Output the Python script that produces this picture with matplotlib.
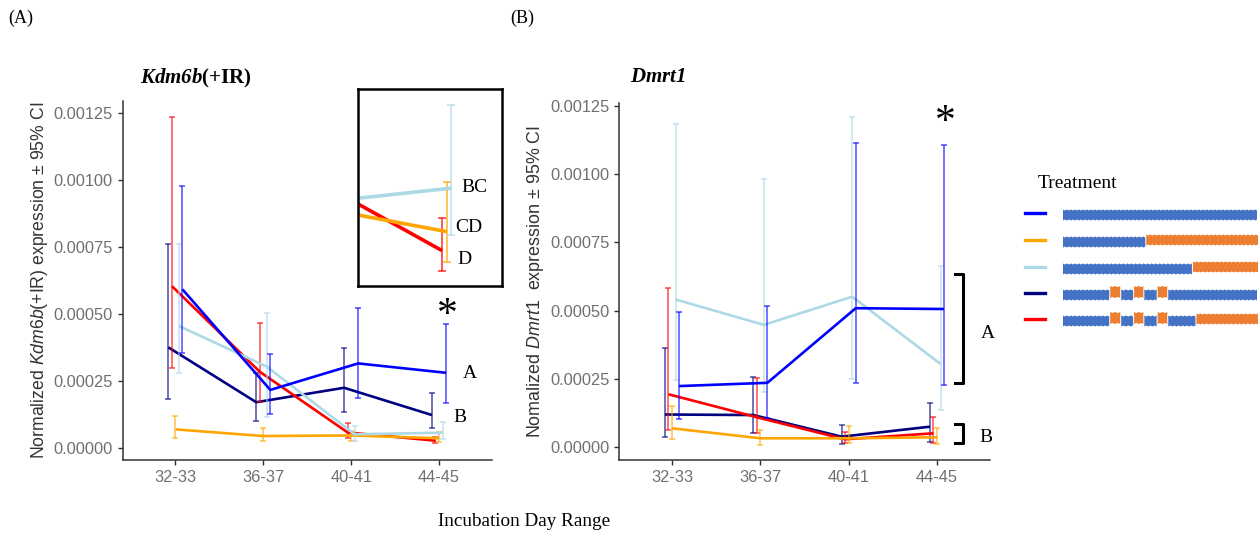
import matplotlib.pyplot as plt
import numpy as np
from matplotlib.patches import Polygon
from matplotlib.ticker import FormatStrFormatter

# ---- data ----
days = ["32-33", "36-37", "40-41", "44-45"]
groups = ["navy", "red", "orange", "lightblue", "blue"]

# Kdm6b(+IR): mean, lower CI, upper CI
kdm_navy = [[0.000375, 0.000170, 0.000224, 0.000122],
            [0.000181, 0.000101, 0.000135, 0.0000723],
            [0.000761, 0.000278, 0.000373, 0.000203]]
kdm_red = [[0.000604, 0.000284, 0.0000570, 0.0000262],
           [0.000297, 0.000172, 0.0000349, 0.0000166],
           [0.001235, 0.000467, 0.0000935, 0.0000417]]
kdm_orange = [[0.0000685, 0.0000436, 0.0000457, 0.0000353],
              [0.0000374, 0.0000249, 0.0000249, 0.0000209],
              [0.000118, 0.0000723, 0.0000636, 0.0000592]]
kdm_lightblue = [[0.000455, 0.000303, 0.0000501, 0.0000561],
                 [0.000278, 0.000115, 0.0000260, 0.0000337],
                 [0.000761, 0.000502, 0.0000811, 0.0000960]]
kdm_blue = [[0.000592, 0.000216, 0.000315, 0.000280],
            [0.000355, 0.000126, 0.000187, 0.000168],
            [0.000978, 0.000349, 0.000521, 0.000462]]

# Dmrt1
dmrt_navy = [[0.000120, 0.000118, 0.0000388, 0.0000754],
             [0.0000388, 0.0000534, 0.0000120, 0.0000210],
             [0.000364, 0.000258, 0.0000816, 0.000163]]
dmrt_red = [[0.000194, 0.000110, 0.0000293, 0.0000512],
            [0.0000633, 0.0000512, 0.0000146, 0.0000146],
            [0.000584, 0.000252, 0.0000560, 0.000110]]
dmrt_orange = [[0.0000695, 0.0000329, 0.0000329, 0.0000366],
               [0.0000293, 0.0000084, 0.0000146, 0.0000120],
               [0.000151, 0.0000633, 0.0000780, 0.0000695]]
dmrt_lightblue = [[0.000541, 0.000448, 0.000551, 0.000305],
                  [0.000246, 0.000203, 0.000249, 0.000136],
                  [0.001183, 0.000980, 0.001207, 0.000663]]
dmrt_blue = [[0.000224, 0.000236, 0.000509, 0.000506],
             [0.000102, 0.000106, 0.000234, 0.000228],
             [0.000494, 0.000517, 0.001112, 0.001106]]

kdm = dict(zip(groups, [kdm_navy, kdm_red, kdm_orange, kdm_lightblue, kdm_blue]))
dmrt = dict(zip(groups, [dmrt_navy, dmrt_red, dmrt_orange, dmrt_lightblue, dmrt_blue]))

# treatment schedules (fraction of incubation, 'b' = blue, 'o' = orange shift, 'p' = pulse)
schedules = [
    [(0, 1, 'b')],
    [(0, 0.43, 'b'), (0.43, 1, 'o')],
    [(0, 0.668, 'b'), (0.668, 1, 'o')],
    [(0, 0.246, 'b'), (0.246, 0.297, 'p'), (0.297, 0.368, 'b'), (0.368, 0.415, 'p'),
     (0.415, 0.488, 'b'), (0.488, 0.537, 'p'), (0.537, 1, 'b')],
    [(0, 0.246, 'b'), (0.246, 0.297, 'p'), (0.297, 0.368, 'b'), (0.368, 0.415, 'p'),
     (0.415, 0.488, 'b'), (0.488, 0.537, 'p'), (0.537, 0.686, 'b'), (0.686, 1, 'o')],
]

plt.rcParams['font.family'] = 'Liberation Sans'
plt.rcParams['mathtext.fontset'] = 'custom'
plt.rcParams['mathtext.rm'] = 'Liberation Sans'
plt.rcParams['mathtext.it'] = 'Liberation Sans:italic'
plt.rcParams['mathtext.bfit'] = 'Liberation Serif:italic:bold'

W, H = 1258, 537
fig = plt.figure(figsize=(W / 100, H / 100), dpi=100)


def px_axes(l, t, r, b):
    return fig.add_axes([l / W, 1 - b / H, (r - l) / W, (b - t) / H])


dodge = dict(zip(groups, [-0.08, -0.04, 0.0, 0.04, 0.08]))
x = np.arange(1, len(days) + 1)


def draw(ax, data, names, lw=1.9, elw=1.1, cap=2.5):
    for g in names:
        m, lo, hi = (np.array(v) for v in data[g])
        xs = x + dodge[g]
        ax.errorbar(xs, m, yerr=[m - lo, hi - m], fmt='none', ecolor=g,
                    elinewidth=elw, capsize=cap, capthick=elw, alpha=0.7)
        ax.plot(xs, m, color=g, lw=lw, solid_capstyle='butt')


def style(ax, ylim):
    ax.set_xlim(0.4, 4.6)
    ax.set_ylim(*ylim)
    for s in ['top', 'right']:
        ax.spines[s].set_visible(False)
    for s in ['left', 'bottom']:
        ax.spines[s].set_color('#333333')
        ax.spines[s].set_linewidth(1.1)
    ax.set_yticks(np.arange(0, 0.0013, 0.00025))
    ax.yaxis.set_major_formatter(FormatStrFormatter('%.5f'))
    ax.set_xticks(x)
    ax.set_xticklabels(days)
    ax.tick_params(colors='#333333', labelcolor='#707070', labelsize=11.8,
                   length=3.5, width=1.0)
    ax.yaxis.set_label_coords(-0.197, 0.5)


axA = px_axes(122.7, 101, 491.7, 460)
draw(axA, kdm, groups)
style(axA, (-0.000046, 0.001296))
axA.set_ylabel(r'Normalized $\mathit{Kdm6b}$(+IR) expression ± 95% CI',
               fontsize=12.7, color='#333333')

axB = px_axes(619, 102.7, 990, 460)
draw(axB, dmrt, groups)
style(axB, (-0.0000465, 0.001261))
axB.set_ylabel(r'Nomalized $\mathit{Dmrt1}$  expression ± 95% CI',
               fontsize=12.9, color='#333333')

# inset zoom of panel A at 44-45
axI = px_axes(358, 89, 502, 286)
draw(axI, kdm, ['red', 'orange', 'lightblue'], lw=2.6, elw=1.3, cap=3)
axI.set_xlim(3.235, 4.476)
axI.set_ylim(0.0000093, 0.0001035)
axI.set_xticks([])
axI.set_yticks([])
for s in axI.spines.values():
    s.set_color('black')
    s.set_linewidth(1.8)

# overlay for annotations, pixel coordinates
ov = fig.add_axes([0, 0, 1, 1])
ov.set_xlim(0, W)
ov.set_ylim(H, 0)
ov.axis('off')

serif = dict(family='Liberation Serif', color='black')
ov.text(8, 18, '(A)', fontsize=13, va='center', **serif)
ov.text(510, 18, '(B)', fontsize=13, va='center', **serif)
ov.text(140, 78, r'$\mathbfit{Kdm6b}$(+IR)', fontsize=15, fontweight='bold',
        va='center', **serif)
ov.text(630, 78, r'$\mathbfit{Dmrt1}$', fontsize=15, va='center', **serif)
ov.text(524, 522, 'Incubation Day Range', fontsize=13.8, ha='center',
        va='center', **serif)
ov.text(1038, 184, 'Treatment', fontsize=14, va='center', **serif)

ov.text(447, 316, '*', fontsize=30, ha='center', va='center', **serif)
ov.text(945, 123, '*', fontsize=30, ha='center', va='center', **serif)

for lab, px, py in [('A', 463, 374), ('B', 453, 417), ('BC', 461, 188),
                    ('CD', 455, 227), ('D', 457, 260), ('A', 981, 333),
                    ('B', 979, 437)]:
    ov.text(px, py, lab, fontsize=14, ha='left', va='center', **serif)

ov.plot([955, 963, 963, 955], [274, 274, 383, 383], color='black', lw=2.2)
ov.plot([955, 963, 963, 955], [424, 424, 443, 443], color='black', lw=2.2)

# legend
rows = [213, 240, 267, 293, 319]
bx0, bx1 = 1062, 1258
blue_c, orange_c = '#4472C4', '#ED7D31'


def zig_bar(x0, x1, yc, h, color):
    n = max(int((x1 - x0) / 2), 1)
    xs = np.linspace(x0, x1, n + 1)
    wob = np.where(np.arange(n + 1) % 2, 0.5, -0.5)
    top = yc - h / 2 + wob
    bot = yc + h / 2 - wob
    pts = np.vstack([np.column_stack([xs, top]), np.column_stack([xs[::-1], bot[::-1]])])
    ov.add_patch(Polygon(pts, closed=True, facecolor=color, edgecolor='none'))


for g, yr, sch in zip(['blue', 'orange', 'lightblue', 'navy', 'red'], rows, schedules):
    ov.plot([1025, 1045], [yr, yr], color=g, lw=2.4)
    for f0, f1, kind in sch:
        xa = bx0 + f0 * (bx1 - bx0)
        xb = bx0 + f1 * (bx1 - bx0)
        if kind == 'b':
            zig_bar(xa + 1, xb - 1, yr + 2, 10, blue_c)
        elif kind == 'o':
            zig_bar(xa, xb, yr, 10, orange_c)
        else:
            zig_bar(xa, xb, yr - 1, 11, orange_c)

fig.savefig('out.png', dpi=100)
